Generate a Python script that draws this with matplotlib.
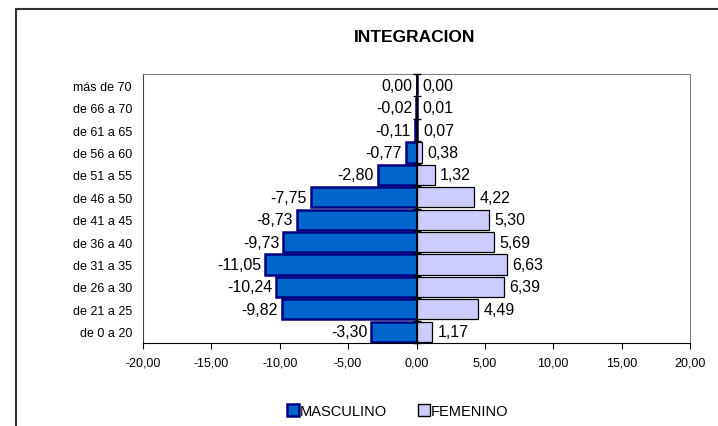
import matplotlib.pyplot as plt
import numpy as np
from matplotlib.patches import Rectangle
from matplotlib.lines import Line2D

plt.rcParams['font.family'] = ['Liberation Sans', 'DejaVu Sans']

# categories from bottom to top
grupos = ['de 0 a 20', 'de 21 a 25', 'de 26 a 30', 'de 31 a 35', 'de 36 a 40',
          'de 41 a 45', 'de 46 a 50', 'de 51 a 55', 'de 56 a 60', 'de 61 a 65',
          'de 66 a 70', 'más de 70']
masculino = [-3.30, -9.82, -10.24, -11.05, -9.73, -8.73, -7.75, -2.80, -0.77, -0.11, -0.02, 0.00]
femenino = [1.17, 4.49, 6.39, 6.63, 5.69, 5.30, 4.22, 1.32, 0.38, 0.07, 0.01, 0.00]
xticks = [-20, -15, -10, -5, 0, 5, 10, 15, 20]

def fmt(v):
    return f"{v:.2f}".replace('.', ',')

fig = plt.figure(figsize=(7.18, 4.27), dpi=100)
ax = fig.add_axes([143/718, 1 - 344/427, (690 - 143)/718, (344 - 75)/427])

y = np.arange(len(grupos))
ax.barh(y, masculino, height=0.9, color='#0066CC', edgecolor='#000080', linewidth=1.8,
        label='MASCULINO', zorder=2)
ax.barh(y, femenino, height=0.9, color='#CCCCFF', edgecolor='black', linewidth=0.9,
        label='FEMENINO', zorder=2)

for yi, v in zip(y, masculino):
    ax.annotate(fmt(v), (v, yi), xytext=(-3, 0), textcoords='offset points',
                ha='right', va='center', fontsize=11.5)
for yi, v in zip(y, femenino):
    ax.annotate(fmt(v), (v, yi), xytext=(4, 0), textcoords='offset points',
                ha='left', va='center', fontsize=11.5)

# vertical axis at zero with crossing ticks between categories
ax.axvline(0, color='black', linewidth=1.2, zorder=3)
ax.plot(np.zeros(len(grupos) + 1), np.arange(len(grupos) + 1) - 0.5, linestyle='none',
        marker='_', markersize=6, color='black', zorder=3, clip_on=False)

ax.set_xlim(-20, 20)
ax.set_ylim(-0.5, len(grupos) - 0.5)
ax.set_xticks(xticks)
ax.set_xticklabels([fmt(v) for v in xticks], fontsize=9)
ax.set_yticks(y)
ax.set_yticklabels(grupos, fontsize=9)
ax.tick_params(axis='y', length=0, pad=8)
ax.tick_params(axis='x', length=4, direction='out', pad=6, color='black')

ax.spines['bottom'].set_color('black')
ax.spines['left'].set_color('#404040')
ax.spines['top'].set_color('#808080')
ax.spines['right'].set_color('#808080')

fig.text(415/718, 1 - 38/427, 'INTEGRACION', ha='center', va='center',
         fontsize=12.5, fontweight='bold')

handles = [
    Line2D([], [], linestyle='none', marker='s', markersize=8, markerfacecolor='#0066CC',
           markeredgecolor='#000080', markeredgewidth=1.8),
    Line2D([], [], linestyle='none', marker='s', markersize=8, markerfacecolor='#CCCCFF',
           markeredgecolor='black', markeredgewidth=1.0),
]
fig.legend(handles, ['MASCULINO', 'FEMENINO'], loc='center', bbox_to_anchor=(397/718, 1 - 412/427),
           ncol=2, frameon=False, fontsize=10.5, handletextpad=0.0, columnspacing=2.0,
           handlelength=1.0)

fig.add_artist(Rectangle((16/718, -0.1), 1.2, 1.1 - 9.5/427, transform=fig.transFigure,
                         fill=False, edgecolor='#333333', linewidth=1.5))

fig.savefig('out.png', dpi=100)
